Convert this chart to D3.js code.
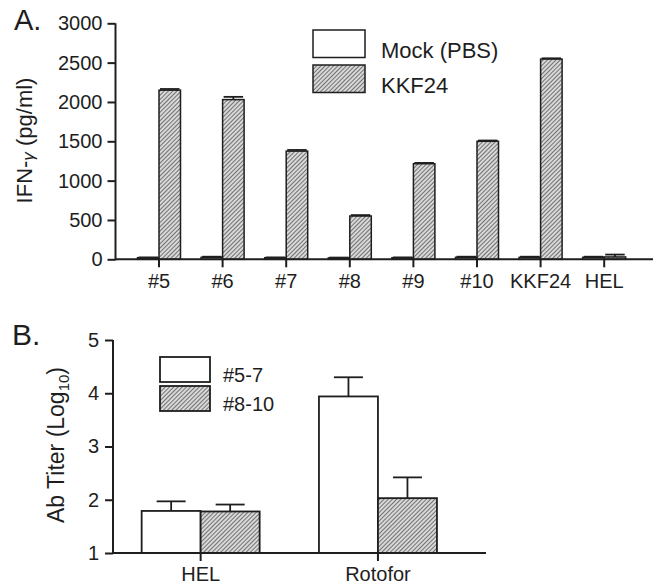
<!DOCTYPE html>
<html><head><meta charset="utf-8">
<script src="https://cdn.jsdelivr.net/npm/d3@7"></script>
<style>body{margin:0;background:#fff}svg{display:block}</style>
</head><body>
<svg id="c" width="660" height="586"></svg>
<script>
// ---- Panel A data ----
const catsA = ["#5","#6","#7","#8","#9","#10","KKF24","HEL"];
const seriesA = ["Mock (PBS)","KKF24"];
const mockA = [20,25,20,18,20,25,25,25];
const mockErrA = [4,8,4,4,4,8,8,8];
const kkfA = [2150,2030,1375,550,1215,1500,2545,30];
const kkfErrA = [15,35,15,12,10,10,10,30];
const ticksA = [0,500,1000,1500,2000,2500,3000];

// ---- Panel B data ----
const catsB = ["HEL","Rotofor"];
const seriesB = ["#5-7","#8-10"];
const grpB1 = [1.79,3.94];
const grpB1Err = [0.18,0.36];
const grpB2 = [1.78,2.03];
const grpB2Err = [0.13,0.39];
const ticksB = [1,2,3,4,5];

const FONT = "'Liberation Sans', Arial, Helvetica, sans-serif";
const INK = "#1e1e1e";
const svg = d3.select("#c");

// hatch pattern
const defs = svg.append("defs");
const pat = defs.append("pattern").attr("id","hatch").attr("patternUnits","userSpaceOnUse")
  .attr("width",3).attr("height",3).attr("patternTransform","rotate(45)");
pat.append("rect").attr("width",3).attr("height",3).attr("fill","#d8d8d8");
pat.append("line").attr("x1",0).attr("y1",0).attr("x2",0).attr("y2",3)
  .attr("stroke","#3a3a3a").attr("stroke-width",1.3);

function styleAxis(g){
  g.selectAll("path.domain").remove();
  g.selectAll("line").attr("stroke",INK).attr("stroke-width",2);
  g.selectAll("text").attr("fill",INK).style("font-family",FONT);
}

// ================= Panel A =================
const axA = 115.5, baseA = 259.3;
const xA = d3.scaleBand().domain(catsA).range([127.2,636]).padding(0);
const yA = d3.scaleLinear().domain([0,3000]).range([baseA,23.3]);
const bwA = 21.5;
const gA = svg.append("g");

// y axis
const yAxA = gA.append("g").attr("transform",`translate(${axA},0)`)
  .call(d3.axisLeft(yA).tickValues(ticksA).tickFormat(d3.format("d")).tickSize(8).tickPadding(5).tickSizeOuter(0));
styleAxis(yAxA);
yAxA.selectAll("text").style("font-size","20px");
gA.append("line").attr("x1",axA).attr("x2",axA).attr("y1",yA(3000)).attr("y2",baseA+1)
  .attr("stroke",INK).attr("stroke-width",2);

// bars
const dataA = catsA.map((c,i)=>({c, m:mockA[i], me:mockErrA[i], k:kkfA[i], ke:kkfErrA[i]}));
function errBar(g, xc, yTop, yErr, half){
  g.append("line").attr("x1",xc).attr("x2",xc).attr("y1",yTop).attr("y2",yErr)
    .attr("stroke",INK).attr("stroke-width",1.8);
  g.append("line").attr("x1",xc-half).attr("x2",xc+half).attr("y1",yErr).attr("y2",yErr)
    .attr("stroke",INK).attr("stroke-width",1.8);
}
dataA.forEach(d=>{
  const xc = xA(d.c) + xA.bandwidth()/2;
  errBar(gA, xc-bwA/2, yA(d.m), yA(d.m+d.me), bwA/2-1);
  gA.append("rect").attr("x",xc-bwA).attr("y",yA(d.m)).attr("width",bwA).attr("height",baseA-yA(d.m))
    .attr("fill","#fff").attr("stroke",INK).attr("stroke-width",1.5);
  errBar(gA, xc+bwA/2, yA(d.k), yA(d.k+d.ke), bwA/2-1);
  gA.append("rect").attr("x",xc).attr("y",yA(d.k)).attr("width",bwA).attr("height",baseA-yA(d.k))
    .attr("fill","url(#hatch)").attr("stroke",INK).attr("stroke-width",1.5);
});

// x axis
const xAxA = gA.append("g").attr("transform",`translate(0,${baseA})`)
  .call(d3.axisBottom(xA).tickSize(8).tickPadding(7).tickSizeOuter(0));
styleAxis(xAxA);
xAxA.selectAll("text").style("font-size","20px");
gA.append("line").attr("x1",axA).attr("x2",653).attr("y1",baseA).attr("y2",baseA)
  .attr("stroke",INK).attr("stroke-width",2);

// y label
const tA = gA.append("text").attr("transform",`translate(32,140.5) rotate(-90)`).attr("text-anchor","middle")
  .style("font-family",FONT).style("font-size","22px").attr("fill",INK);
tA.append("tspan").text("IFN-");
tA.append("tspan").attr("dy",2).style("font-size","17px").style("font-style","italic").text("γ");
tA.append("tspan").attr("dy",-2).text(" (pg/ml)");

// panel letter
svg.append("text").attr("x",14).attr("y",30).style("font-family",FONT).style("font-size","29px")
  .attr("fill",INK).text("A.");

// legend A
const legA = [{n:seriesA[0],f:"#fff",y:30},{n:seriesA[1],f:"url(#hatch)",y:65}];
legA.forEach(l=>{
  svg.append("rect").attr("x",313).attr("y",l.y).attr("width",52).attr("height",27.5)
    .attr("fill",l.f).attr("stroke",INK).attr("stroke-width",1.5);
  svg.append("text").attr("x",381).attr("y",l.y+27.5).style("font-family",FONT).style("font-size","22px")
    .attr("fill",INK).text(l.n);
});

// ================= Panel B =================
const axB = 113, baseB = 553;
const xB = d3.scaleBand().domain(catsB).range([112,466.6]).padding(0);
const yB = d3.scaleLinear().domain([1,5]).range([baseB,340]);
const bwB = 59;
const gB = svg.append("g");

const yAxB = gB.append("g").attr("transform",`translate(${axB},0)`)
  .call(d3.axisLeft(yB).tickValues(ticksB).tickFormat(d3.format("d")).tickSize(8).tickPadding(6).tickSizeOuter(0));
styleAxis(yAxB);
yAxB.selectAll("text").style("font-size","20px");
gB.append("line").attr("x1",axB).attr("x2",axB).attr("y1",yB(5)).attr("y2",baseB+1)
  .attr("stroke",INK).attr("stroke-width",2);

const dataB = catsB.map((c,i)=>({c, a:grpB1[i], ae:grpB1Err[i], b:grpB2[i], be:grpB2Err[i]}));
dataB.forEach(d=>{
  const xc = xB(d.c) + xB.bandwidth()/2;
  errBar(gB, xc-bwB/2, yB(d.a), yB(d.a+d.ae), 14.5);
  gB.append("rect").attr("x",xc-bwB).attr("y",yB(d.a)).attr("width",bwB).attr("height",baseB-yB(d.a))
    .attr("fill","#fff").attr("stroke",INK).attr("stroke-width",1.8);
  errBar(gB, xc+bwB/2, yB(d.b), yB(d.b+d.be), 14.5);
  gB.append("rect").attr("x",xc).attr("y",yB(d.b)).attr("width",bwB).attr("height",baseB-yB(d.b))
    .attr("fill","url(#hatch)").attr("stroke",INK).attr("stroke-width",1.8);
});

const xAxB = gB.append("g").attr("transform",`translate(0,${baseB})`)
  .call(d3.axisBottom(xB).tickSize(8).tickPadding(6).tickSizeOuter(0));
styleAxis(xAxB);
xAxB.selectAll("text").style("font-size","20px");
gB.append("line").attr("x1",axB).attr("x2",486).attr("y1",baseB).attr("y2",baseB)
  .attr("stroke",INK).attr("stroke-width",2);

// y label B
const tB = gB.append("text").attr("transform",`translate(64,445) rotate(-90)`).attr("text-anchor","middle")
  .style("font-family",FONT).style("font-size","23px").attr("fill",INK);
tB.append("tspan").text("Ab Titer (Log");
tB.append("tspan").attr("dy",5).style("font-size","15px").text("10");
tB.append("tspan").attr("dy",-5).text(")");

svg.append("text").attr("x",12).attr("y",345).style("font-family",FONT).style("font-size","30px")
  .attr("fill",INK).text("B.");

// legend B
const legB = [{n:seriesB[0],f:"#fff",y:357},{n:seriesB[1],f:"url(#hatch)",y:386}];
legB.forEach(l=>{
  svg.append("rect").attr("x",160).attr("y",l.y).attr("width",50).attr("height",25)
    .attr("fill",l.f).attr("stroke",INK).attr("stroke-width",1.8);
  svg.append("text").attr("x",223).attr("y",l.y+25).style("font-family",FONT).style("font-size","20px")
    .attr("fill",INK).text(l.n);
});
</script>
</body></html>
